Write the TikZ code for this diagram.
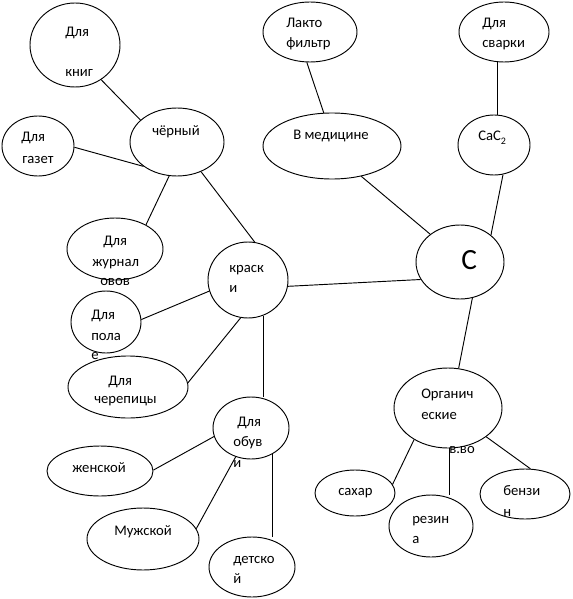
\documentclass[tikz,border=0pt]{standalone}
\usepackage{fontspec}
\setmainfont{Carlito}
\usetikzlibrary{shapes.geometric}
\begin{document}
\begin{tikzpicture}[x=0.75pt,y=-0.75pt,
  ell/.style 2 args={ellipse,draw,fill=white,line width=0.7pt,minimum width=#1*1.5pt,minimum height=#2*1.5pt,inner sep=0pt},
  lbl/.style={anchor=base west,inner sep=0pt,font=\fontsize{11}{13}\selectfont},
  conn/.style={line width=0.7pt}]
\useasboundingbox (0,0) rectangle (572,599);
% nodes
\node[ell={45}{42}] (kn) at (75,45) {};
\node[lbl] (kn1) at (65,37) {Для};
\node[lbl] (kn2) at (65,77) {книг};
\node[ell={36}{30}] (gz) at (38,146) {};
\node[lbl] (gz1) at (21,142) {Для};
\node[lbl] (gz2) at (22,163) {газет};
\node[ell={47}{34}] (ch) at (177,142) {};
\node[lbl] (ch1) at (152,136) {чёрный};
\node[ell={47}{30}] (lk) at (310,32) {};
\node[lbl] (lk1) at (286,28) {Лакто};
\node[lbl] (lk2) at (286,48) {фильтр};
\node[ell={45}{30}] (sv) at (504,32) {};
\node[lbl] (sv1) at (482,28) {Для};
\node[lbl] (sv2) at (482,48) {сварки};
\node[ell={69}{33}] (md) at (332,146) {};
\node[lbl] (md1) at (293,140) {В медицине};
\node[ell={36}{30}] (ca) at (494,145) {};
\node[lbl] (ca1) at (478,141) {CaC\raisebox{-2.5pt}{\fontsize{7.5}{8}\selectfont 2}};
\node[ell={48}{31}] (zh) at (115,249) {};
\node[lbl] (zh1) at (103,245) {Для};
\node[lbl] (zh2) at (92,266) {журнал};
\node[lbl] (zh3) at (100,285) {овов};
\node[ell={40}{38}] (kr) at (248,280) {};
\node[lbl] (kr1) at (229,272) {краск};
\node[lbl] (kr2) at (229,292) {и};
\node[ell={35}{31}] (pl) at (106,322) {};
\node[lbl] (pl1) at (91,319) {Для};
\node[lbl] (pl2) at (91,340) {пола};
\node[lbl] (pl3) at (91,359) {е};
\node[ell={60}{31}] (cp) at (128,387) {};
\node[lbl] (cp1) at (108,385) {Для};
\node[lbl] (cp2) at (94,403) {черепицы};
\node[ell={44}{37}] (C) at (460,262) {};
\node[lbl,font=\fontsize{22}{26}\selectfont] (C1) at (461,269) {C};
\node[ell={54}{40}] (org) at (448,408) {};
\node[lbl] (org1) at (421,398) {Органич};
\node[lbl] (org2) at (421,419) {еские};
\node[lbl] (org3) at (449,453) {в.во};
\node[ell={40}{23}] (sx) at (355,493) {};
\node[lbl] (sx1) at (338,495) {сахар};
\node[ell={42}{31}] (rz) at (431,526) {};
\node[lbl] (rz1) at (412,523) {резин};
\node[lbl] (rz2) at (412,543) {а};
\node[ell={45}{25}] (bz) at (525,494) {};
\node[lbl] (bz1) at (503,495) {бензи};
\node[lbl] (bz2) at (503,516) {н};
\node[ell={38}{31}] (ob) at (251,428) {};
\node[lbl] (ob1) at (237,426) {Для};
\node[lbl] (ob2) at (233,446) {обув};
\node[lbl] (ob3) at (233,467) {и};
\node[ell={53}{25}] (wj) at (100,471) {};
\node[lbl] (wj1) at (72,472) {женской};
\node[ell={56}{31}] (mj) at (143,539) {};
\node[lbl] (mj1) at (114,535) {Мужской};
\node[ell={43}{30}] (dt) at (252,567) {};
\node[lbl] (dt1) at (233,563) {детско};
\node[lbl] (dt2) at (233,583) {й};
% connectors
\draw[conn] (kn.-53.4) -- (ch.149.3);
\draw[conn] (gz.-2) -- (ch.216.9);
\draw[conn] (ch.257.5) -- (zh.38.9);
\draw[conn] (ch.-51.3) -- (kr.80.8);
\draw[conn] (kr.-9.9) -- (C.204.6);
\draw[conn] (pl.4.8) -- (kr.196.7);
\draw[conn] (cp.4) -- (kr.259);
\draw[conn] (kr.-67.4) -- (kr.-67.4 |- ob.north);
\draw[conn] (md.-46) -- (C.137.9);
\draw[conn] (lk.264.3) -- (md.104.8);
\draw[conn] (sv.258.7) -- (sv.258.7 |- ca.north);
\draw[conn] (ca.-73.3) -- (C.41);
\draw[conn] (C.-71.6) -- (org.75.6);
\draw[conn] (org.223.1) -- (sx.13.6);
\draw[conn] (org.-88) -- (org.-88 |- rz.north);
\draw[conn] (org.-37.6) -- (bz.78.7);
\draw[conn] (ob.193.3) -- (wj.1);
\draw[conn] (ob.242.8) -- (mj.11.1);
\draw[conn] (ob.-50.9) -- (ob.-50.9 |- dt.north);
\end{tikzpicture}
\end{document}
